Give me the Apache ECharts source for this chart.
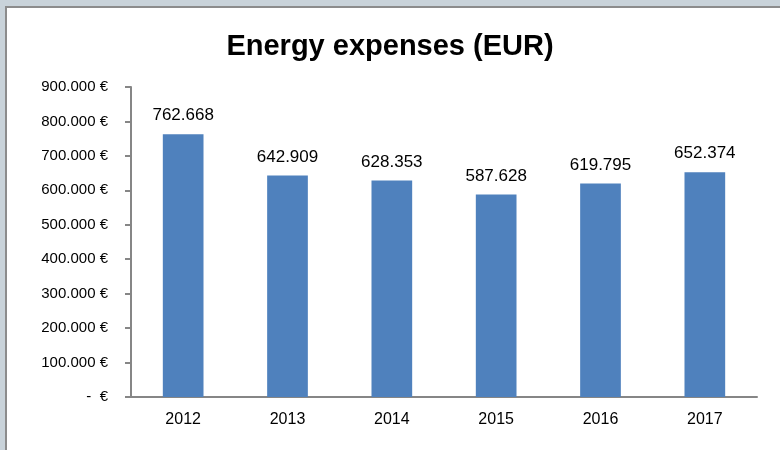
<!DOCTYPE html>
<html lang="en" style="height: 100%">

<head>
  <meta charset="utf-8">
</head>

<body style="height: 100%; margin: 0">
  <div id="container" style="width: 780px; height: 450px"></div>
  <script type="text/javascript" src="https://fastly.jsdelivr.net/npm/echarts@6.0.0/dist/echarts.min.js"></script>
  <script type="text/javascript">
    const years = ['2012', '2013', '2014', '2015', '2016', '2017']
    const expenses = [762668, 642909, 628353, 587628, 619795, 652374]

    // 762668 -> "762.668"
    const dotted = v => String(Math.round(v)).replace(/\B(?=(\d{3})+(?!\d))/g, '.')

    var dom = document.getElementById('container');
    var myChart = echarts.init(dom, null, { renderer: 'canvas' });

    var option = {
      backgroundColor: '#ffffff',
      textStyle: { fontFamily: 'Liberation Sans' },
      title: {
        text: 'Energy expenses (EUR)',
        left: 'center',
        top: 27,
        textStyle: { fontSize: 29, fontWeight: 'bold', color: '#000' }
      },
      // excel-like window frame
      graphic: [
        { type: 'rect', shape: { x: 0, y: 0, width: 780, height: 6 }, style: { fill: '#c9d3da' }, silent: true },
        { type: 'rect', shape: { x: 0, y: 0, width: 5, height: 450 }, style: { fill: '#c9d3da' }, silent: true },
        { type: 'rect', shape: { x: 5, y: 6, width: 775, height: 2 }, style: { fill: '#8c8c8c' }, silent: true },
        { type: 'rect', shape: { x: 5, y: 6, width: 2, height: 444 }, style: { fill: '#8c8c8c' }, silent: true }
      ],
      grid: { left: 131, right: 23, top: 87, bottom: 53 },
      xAxis: {
        type: 'category',
        data: years,
        axisLine: { lineStyle: { color: '#868686', width: 2 } },
        axisTick: { length: 6, lineStyle: { color: '#868686', width: 2 } },
        axisLabel: { fontSize: 16, color: '#000', margin: 15 }
      },
      yAxis: {
        type: 'value',
        min: 0,
        max: 900000,
        interval: 100000,
        splitLine: { show: false },
        axisLine: { show: true, lineStyle: { color: '#868686', width: 2 } },
        axisTick: { show: true, length: 6, lineStyle: { color: '#868686', width: 2 } },
        axisLabel: {
          fontSize: 15,
          color: '#000',
          margin: 23,
          formatter: v => v === 0 ? '-  €' : dotted(v) + ' €'
        }
      },
      series: [
        {
          type: 'bar',
          data: expenses,
          barWidth: '39%',
          itemStyle: { color: '#4f81bd' },
          label: {
            show: true,
            position: 'top',
            distance: 10,
            fontSize: 17,
            color: '#000',
            formatter: p => dotted(p.value)
          }
        }
      ]
    };

    myChart.setOption(option);
    window.addEventListener('resize', myChart.resize);
  </script>
</body>

</html>
